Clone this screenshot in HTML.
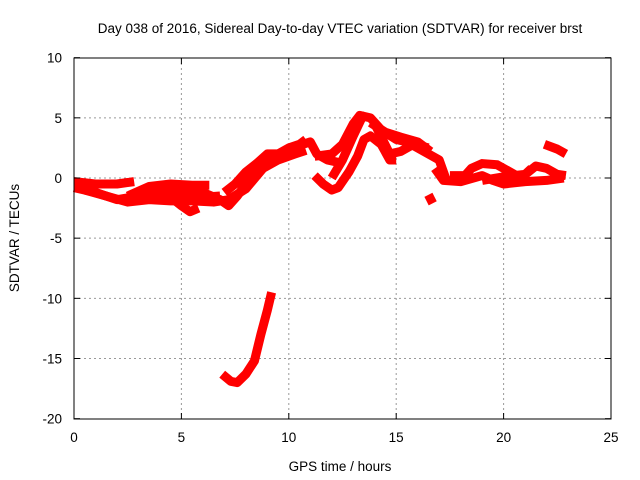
<!DOCTYPE html>
<html><head><meta charset="utf-8"><style>
body{margin:0;background:#fff}
svg{display:block;font-family:"Liberation Sans",sans-serif}
</style></head><body>
<svg id="chart" width="640" height="480">
<text x="340" y="33" font-size="13.5" text-anchor="middle">Day 038 of 2016, Sidereal Day-to-day VTEC variation (SDTVAR) for receiver brst</text>
<text x="340" y="471" font-size="13.5" text-anchor="middle">GPS time / hours</text>
<text transform="translate(19,238) rotate(-90)" font-size="13.5" text-anchor="middle">SDTVAR / TECUs</text>
<g id="grid"></g><g id="series"></g>
<rect x="74" y="58" width="537" height="361" fill="none" stroke="#000" stroke-width="1"/>
<g id="ticks"></g>
</svg>
<script>
const xTicks=[0,5,10,15,20,25];
const yTicks=[10,5,0,-5,-10,-15,-20];
const trackA1=[[0,-0.3],[1,-0.5],[2,-0.5],[2.8,-0.3]];
const trackA2=[[0,-0.8],[1,-1.2],[2,-1.8],[3,-1.5],[4,-1.4],[5,-1.5],[6,-1.6],[6.8,-1.5]];
const trackA3=[[2.5,-1.5],[3.5,-0.7],[4.5,-0.5],[5.5,-0.6],[6.3,-0.6]];
const trackA4=[[3.5,-1],[4.5,-1.6],[5,-2.3],[5.4,-2.8],[5.8,-2.5]];
const trackA5=[[4,-1.2],[5,-1.2],[6,-1.2],[6.8,-1.8],[7.2,-2.3],[7.6,-1.5],[8,-0.5],[8.5,0.5],[9,1.5],[9.5,2],[10,2.2],[10.5,2.7],[11,3],[11.3,2],[11.8,1.5],[12.3,1.3]];
const trackA6=[[7,-1.2],[7.5,-0.5],[8,0.5],[8.5,1.2],[9,2],[9.5,2],[10,2.5],[10.5,2.8],[10.8,3.2]];
const trackA7=[[0.5,-1],[1.5,-1.5],[2.5,-2],[3.5,-1.8],[4.5,-1.9],[5.5,-1.9],[6.5,-2],[7.2,-1.8],[8,-0.9],[8.8,0.8],[9.5,1.5],[10.3,2],[10.8,2.3]];
const trackB1=[[11.2,1.8],[12,2],[12.5,2.8],[13,4.5],[13.3,5.2],[13.8,5],[14.3,4],[15,3.2],[15.5,3],[16,2.5],[16.5,2],[17,1.5],[17.3,0]];
const trackB2=[[11.2,0.2],[11.6,-0.5],[12,-1],[12.3,-0.8],[12.8,0.5],[13.2,1.8],[13.5,3.2],[13.8,3.5],[14.3,2.8],[14.7,1.5],[15,1.5]];
const trackB3=[[12,0],[12.5,1.5],[13,3.5],[13.4,5],[13.6,5.2]];
const trackB4=[[14,4.5],[14.7,2],[15.2,2.2],[15.8,2.8],[16.5,2.5]];
const trackB5=[[13.8,4.6],[14.5,3.8],[15.2,3.4],[16,3],[16.6,2.2]];
const trackC1=[[16.8,0.8],[17.2,-0.2],[18,-0.3],[19,0.2],[19.5,-0.2],[20,-0.5],[20.5,-0.4],[21,-0.3],[22,-0.2],[22.8,0]];
const trackC2=[[17.5,0.2],[18.2,0.2],[18.5,0.8],[19,1.2],[19.7,1.1],[20.3,0.5],[20.8,0],[21.5,1],[22,0.8],[22.5,0.3],[22.9,0.2]];
const trackC3=[[19,-0.2],[20,0.1],[21,0.3],[21.3,0.8]];
const trackC4=[[21.9,2.8],[22.5,2.4],[22.9,2]];
const trackC5=[[16.5,-1.4],[16.7,-2.1]];
const trackD=[[6.9,-16.3],[7.3,-16.9],[7.6,-17],[8,-16.3],[8.4,-15.2],[8.7,-13],[9,-11],[9.2,-9.5]];
const tracks=[trackA1,trackA2,trackA3,trackA4,trackA5,trackA6,trackA7,trackB1,trackB2,trackB3,trackB4,trackB5,trackC1,trackC2,trackC3,trackC4,trackC5,trackD];
const NS="http://www.w3.org/2000/svg";
function px(x){return 74+x*(537/25);}
function py(y){return 178-y*(361/30);}
const grid=document.getElementById('grid'),ticks=document.getElementById('ticks'),ser=document.getElementById('series');
function mk(tag,attrs,parent){const e=document.createElementNS(NS,tag);for(const k in attrs)e.setAttribute(k,attrs[k]);parent.appendChild(e);return e;}
xTicks.forEach(t=>{const x=px(t);
 if(t>0&&t<25){const g=mk('line',{x1:x,x2:x,y1:58,y2:419,stroke:'#999','stroke-dasharray':'2,3'},grid);
 
 }
 mk('line',{x1:x,x2:x,y1:419,y2:413,stroke:'#000'},ticks);mk('line',{x1:x,x2:x,y1:58,y2:64,stroke:'#000'},ticks);
 const l=mk('text',{x:x,y:442,'font-size':13.5,'text-anchor':'middle'},ticks);l.textContent=t;
 
 });
yTicks.forEach(t=>{const y=py(t);
 if(t<10&&t>-20){const g=mk('line',{x1:74,x2:611,y1:y,y2:y,stroke:'#999','stroke-dasharray':'2,3'},grid);
 
 }
 mk('line',{x1:74,x2:80,y1:y,y2:y,stroke:'#000'},ticks);mk('line',{x1:605,x2:611,y1:y,y2:y,stroke:'#000'},ticks);
 const l=mk('text',{x:62,y:y+5,'font-size':13.5,'text-anchor':'end'},ticks);l.textContent=t;
 
 });
tracks.forEach(tr=>{const p=mk('polyline',{points:tr.map(d=>px(d[0])+','+py(d[1])).join(' '),fill:'none',stroke:'#ff0000','stroke-width':9,'stroke-linejoin':'round','stroke-linecap':'butt'},ser);
 
 });
</script>
</body></html>
